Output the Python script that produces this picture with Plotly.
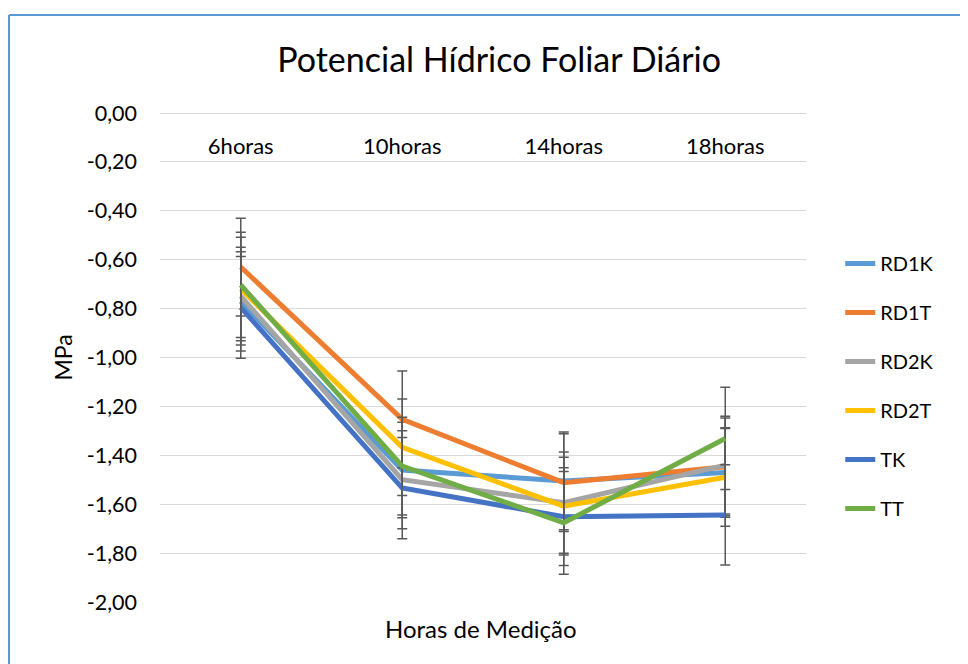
import plotly.graph_objects as go

# data
categories = ["6horas", "10horas", "14horas", "18horas"]
series_names = ["RD1K", "RD1T", "RD2K", "RD2T", "TK", "TT"]

rd1k = [-0.77, -1.46, -1.505, -1.47]
rd1t = [-0.63, -1.253, -1.512, -1.447]
rd2k = [-0.749, -1.50, -1.594, -1.44]
rd2t = [-0.72, -1.367, -1.608, -1.49]
tk = [-0.795, -1.534, -1.651, -1.644]
tt = [-0.703, -1.444, -1.676, -1.331]

rd1k_err = [0.203, 0.195, 0.20, 0.183]
rd1t_err = [0.20, 0.198, 0.20, 0.20]
rd2k_err = [0.20, 0.20, 0.207, 0.20]
rd2t_err = [0.212, 0.197, 0.20, 0.20]
tk_err = [0.208, 0.207, 0.20, 0.205]
tt_err = [0.215, 0.20, 0.21, 0.209]

y_ticks = [0, -0.2, -0.4, -0.6, -0.8, -1.0, -1.2, -1.4, -1.6, -1.8, -2.0]
y_tick_labels = ["0,00", "-0,20", "-0,40", "-0,60", "-0,80", "-1,00",
                 "-1,20", "-1,40", "-1,60", "-1,80", "-2,00"]

values = [rd1k, rd1t, rd2k, rd2t, tk, tt]
errors = [rd1k_err, rd1t_err, rd2k_err, rd2t_err, tk_err, tt_err]
colors = ["#5B9BD5", "#ED7D31", "#A5A5A5", "#FFC000", "#4472C4", "#70AD47"]

FONT = "Lato"
TXT = "#000000"

# the page body adds an 8px offset, margins compensate for it
L, T, W, H = 152, 105, 646, 489

fig = go.Figure()
for name, vals, errs, color in zip(series_names, values, errors, colors):
    fig.add_trace(go.Scatter(
        x=categories, y=vals,
        mode="lines",
        name=name,
        legendgroup=name,
        line=dict(color=color, width=5),
        error_y=dict(type="data", array=errs, symmetric=True,
                     color="#595959", thickness=1.5, width=5),
    ))

fig.update_layout(
    width=968,
    height=664,
    margin=dict(l=L, r=968 - L - W, t=T, b=664 - T - H),
    paper_bgcolor="#FFFFFF",
    plot_bgcolor="#FFFFFF",
    font=dict(family=FONT, size=21, color=TXT),
    title=dict(text="Potencial Hídrico Foliar Diário",
               font=dict(family=FONT, size=34, color=TXT),
               x=0.525, xref="paper", xanchor="center",
               y=1 - 52 / 664, yref="container", yanchor="middle"),
    legend=dict(x=1.053, xanchor="left", y=0.732, yanchor="top",
                font=dict(size=20), tracegroupgap=20,
                bgcolor="rgba(0,0,0,0)"),
    showlegend=True,
)

fig.update_xaxes(
    type="category",
    range=[-0.5, 3.5],
    anchor="free",
    position=1,
    side="bottom",
    ticklabelstandoff=14,
    showgrid=False,
    showline=True, linecolor="#D9D9D9", linewidth=1,
    ticks="",
    tickfont=dict(size=22),
    zeroline=False,
)
fig.update_yaxes(
    range=[-2, 0],
    tickvals=y_ticks,
    ticktext=y_tick_labels,
    showgrid=True, gridcolor="#D9D9D9", gridwidth=1,
    zeroline=False,
    ticks="",
    ticklabelstandoff=22,
    tickfont=dict(size=21.5),
)

fig.add_annotation(text="MPa", x=(62 - 160) / W, y=0.5, xref="paper", yref="paper",
                   xanchor="center", yanchor="middle",
                   textangle=-90, showarrow=False, font=dict(size=23))
fig.add_annotation(text="Horas de Medição", x=(481 - 160) / W, y=(602 - 628) / H,
                   xref="paper", yref="paper", xanchor="center", yanchor="middle",
                   showarrow=False, font=dict(size=24))

# chart area border: only its top and left edges fall inside the frame
fig.add_shape(type="line", xref="paper", yref="paper",
              x0=(9 - 160) / W, x1=(1100 - 160) / W,
              y0=(602 - 15) / H, y1=(602 - 15) / H,
              line=dict(color="#5B9BD5", width=2), layer="below")
fig.add_shape(type="line", xref="paper", yref="paper",
              x0=(9 - 160) / W, x1=(9 - 160) / W,
              y0=(602 - 15) / H, y1=(602 - 800) / H,
              line=dict(color="#5B9BD5", width=2), layer="below")

fig.write_html("out.html")
